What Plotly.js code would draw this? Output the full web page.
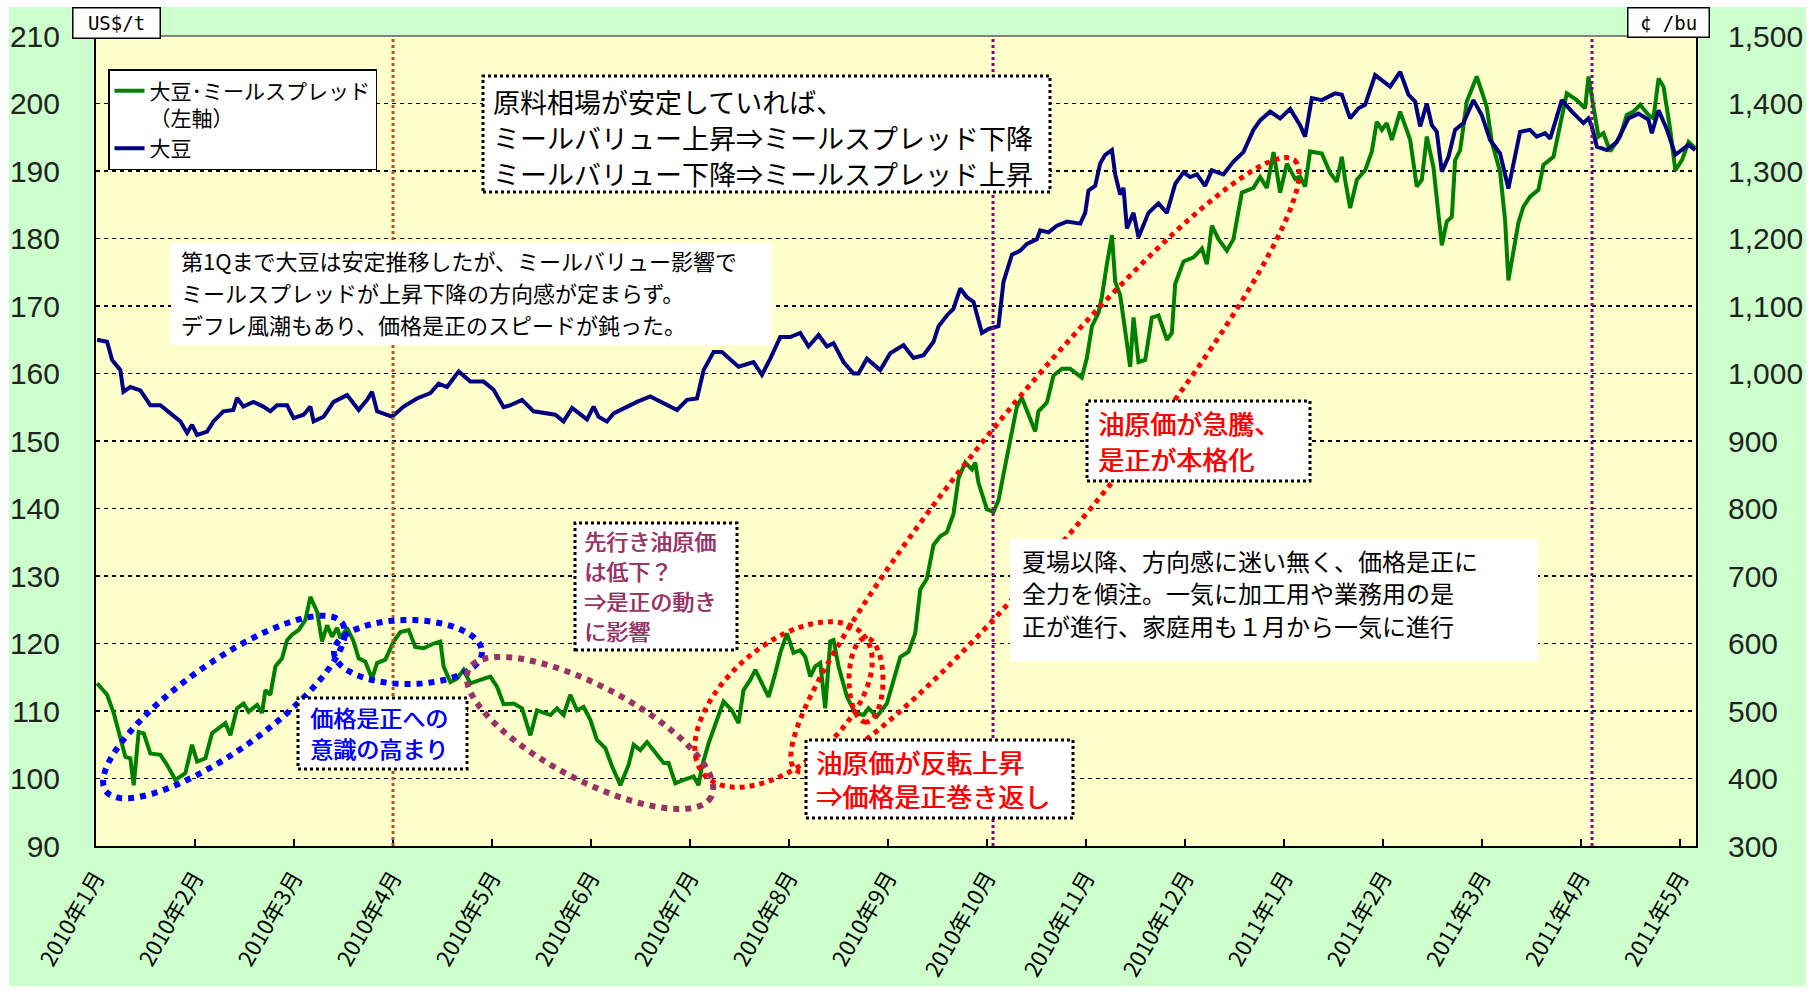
<!DOCTYPE html>
<html><head><meta charset="utf-8">
<script src="https://cdn.plot.ly/plotly-3.0.1.min.js"></script>
<style>
html,body{margin:0;padding:0;background:#fff;width:1813px;height:992px;overflow:hidden;}
#chart{position:absolute;left:9px;top:7px;width:1797px;height:979px;}
</style></head><body><div id="chart"></div>
<script>
// ---- data ----
const monthLabels = ["2010年1月","2010年2月","2010年3月","2010年4月","2010年5月","2010年6月","2010年7月","2010年8月","2010年9月","2010年10月","2010年11月","2010年12月","2011年1月","2011年2月","2011年3月","2011年4月","2011年5月"];
const monthTicks = [0,1,2,3,4,5,6,7,8,9,10,11,12,13,14,15,16];

// time in months since 2010年1月 (category-style month axis)
const spreadT = [0.011,0.112,0.179,0.246,0.297,0.347,0.381,0.431,0.482,0.549,0.650,0.718,0.802,0.903,0.970,1.021,1.105,1.172,1.256,1.307,1.357,1.425,1.491,1.542,1.627,1.677,1.711,1.761,1.812,1.879,1.930,1.980,2.047,2.115,2.165,2.233,2.283,2.334,2.384,2.435,2.468,2.536,2.602,2.653,2.720,2.788,2.839,2.922,3.006,3.074,3.158,3.225,3.309,3.410,3.478,3.511,3.579,3.646,3.713,3.781,3.882,3.983,4.050,4.117,4.218,4.303,4.387,4.454,4.589,4.656,4.723,4.790,4.858,4.925,4.993,5.060,5.144,5.212,5.296,5.379,5.430,5.497,5.565,5.666,5.733,5.783,5.851,5.935,6.036,6.086,6.120,6.187,6.272,6.338,6.423,6.490,6.540,6.608,6.659,6.726,6.793,6.861,6.911,6.979,7.045,7.113,7.164,7.214,7.264,7.315,7.365,7.416,7.449,7.500,7.585,7.668,7.752,7.802,7.887,7.988,8.039,8.123,8.207,8.274,8.325,8.392,8.459,8.527,8.594,8.661,8.712,8.779,8.847,8.880,8.913,8.998,9.065,9.115,9.166,9.233,9.301,9.351,9.418,9.486,9.519,9.604,9.671,9.756,9.839,9.957,10.008,10.059,10.125,10.159,10.210,10.261,10.294,10.344,10.395,10.445,10.479,10.529,10.597,10.664,10.731,10.816,10.866,10.900,10.984,11.085,11.170,11.220,11.270,11.337,11.422,11.488,11.573,11.690,11.758,11.826,11.893,11.960,12.028,12.112,12.161,12.212,12.262,12.381,12.465,12.532,12.583,12.616,12.667,12.735,12.818,12.886,12.936,12.987,13.037,13.088,13.172,13.273,13.340,13.391,13.441,13.508,13.558,13.593,13.643,13.694,13.727,13.778,13.845,13.946,14.047,14.098,14.181,14.232,14.265,14.315,14.366,14.416,14.484,14.568,14.619,14.720,14.787,14.855,14.956,15.040,15.074,15.124,15.175,15.225,15.293,15.394,15.461,15.528,15.596,15.680,15.730,15.782,15.832,15.900,15.951,16.018,16.085,16.152];
// 大豆・ミールスプレッド (US$/t, left axis)
const spreadVal = [114.1,112.4,109.7,105.7,103.2,103.0,99.0,106.9,106.7,103.7,103.5,102.0,99.8,100.8,105.0,102.5,103.0,106.7,107.7,108.2,106.4,110.4,111.1,109.9,110.9,109.7,113.1,112.4,116.6,117.8,120.5,121.3,122.0,123.5,126.9,124.7,120.3,122.7,121.0,122.3,120.8,122.3,120.3,117.8,117.3,114.8,117.1,117.6,120.3,121.7,122.0,119.5,119.3,120.0,120.3,116.6,114.3,114.8,116.1,114.1,114.6,115.1,113.6,111.0,111.1,110.4,106.4,110.1,109.4,110.4,109.4,112.4,110.1,110.6,108.7,105.7,104.5,101.8,99.0,102.0,105.0,104.2,105.4,103.5,102.3,102.3,99.3,99.8,100.3,99.0,101.8,105.2,108.7,111.4,110.1,108.2,113.1,114.6,116.1,114.1,112.1,115.6,118.6,121.5,118.6,119.0,118.0,115.1,116.6,117.1,110.4,120.3,120.5,116.6,112.1,109.7,109.4,110.4,109.2,111.1,113.6,118.0,118.8,121.5,128.0,129.6,134.6,135.9,136.5,139.2,144.5,146.8,145.8,146.8,143.8,139.9,139.5,141.2,145.1,149.8,155.1,156.4,153.8,151.4,154.4,155.7,159.7,160.7,160.7,159.4,162.3,167.0,169.0,171.3,176.2,180.5,173.6,171.6,166.3,161.0,168.3,161.7,162.0,168.3,168.6,165.0,166.0,173.3,176.6,177.2,178.5,176.2,181.9,179.9,178.2,179.9,186.8,187.5,189.1,187.5,192.8,186.8,191.1,188.8,189.2,187.7,192.9,192.6,189.7,188.4,192.1,188.7,184.5,188.7,190.1,192.9,197.3,196.1,197.1,194.6,198.8,194.6,187.7,188.7,195.1,190.6,183.7,179.0,182.5,183.2,191.6,193.1,200.3,204.0,199.5,194.3,189.9,182.7,173.8,177.8,182.3,184.7,186.2,187.2,190.9,192.1,196.6,201.5,200.5,199.3,204.0,199.5,195.1,195.6,192.9,195.1,198.3,198.8,199.8,198.3,197.8,203.7,202.5,196.1,190.1,191.6,194.3,193.4];

const soyT = [0.011,0.112,0.163,0.246,0.277,0.347,0.448,0.549,0.650,0.751,0.852,0.920,0.970,1.021,1.122,1.186,1.287,1.387,1.425,1.488,1.589,1.690,1.761,1.829,1.930,1.996,2.097,2.165,2.198,2.299,2.400,2.536,2.653,2.738,2.788,2.839,2.990,3.107,3.242,3.377,3.461,3.545,3.663,3.781,3.915,4.016,4.117,4.185,4.303,4.420,4.555,4.639,4.723,4.808,4.959,5.026,5.076,5.161,5.228,5.363,5.464,5.598,5.733,5.868,5.969,6.070,6.137,6.238,6.322,6.406,6.490,6.641,6.726,6.810,6.911,7.012,7.113,7.197,7.298,7.383,7.449,7.550,7.651,7.702,7.786,7.921,8.022,8.156,8.257,8.358,8.459,8.510,8.594,8.661,8.729,8.796,8.863,8.948,9.014,9.115,9.166,9.251,9.335,9.402,9.503,9.536,9.620,9.705,9.806,9.941,9.991,10.024,10.092,10.142,10.193,10.261,10.294,10.344,10.378,10.412,10.479,10.529,10.580,10.630,10.731,10.816,10.900,10.984,11.051,11.119,11.202,11.270,11.387,11.488,11.589,11.690,11.758,11.859,11.960,12.061,12.161,12.212,12.280,12.381,12.515,12.583,12.667,12.751,12.818,12.919,13.071,13.172,13.256,13.323,13.374,13.441,13.492,13.542,13.593,13.660,13.727,13.811,13.912,13.996,14.080,14.181,14.265,14.315,14.383,14.484,14.552,14.636,14.687,14.805,14.906,15.023,15.074,15.108,15.159,15.259,15.360,15.478,15.579,15.680,15.714,15.782,15.867,15.951,16.085,16.152];
// 大豆 (¢/bu, right axis)
const soyVal = [1050,1047,1020,1005,973,980,975,953,953,941,929,912,924,909,914,929,944,946,964,951,958,951,944,953,953,934,939,951,929,936,958,968,946,961,973,944,936,951,963,971,985,980,1003,988,988,976,950,953,961,944,941,939,929,949,932,951,936,929,941,951,958,966,956,946,961,963,1005,1032,1032,1020,1010,1017,998,1022,1054,1054,1060,1040,1057,1040,1045,1017,1000,1000,1022,1005,1030,1042,1023,1027,1047,1070,1086,1096,1126,1113,1106,1060,1066,1070,1136,1176,1182,1192,1199,1212,1209,1219,1225,1222,1238,1271,1278,1311,1324,1331,1295,1265,1275,1215,1238,1202,1219,1238,1252,1238,1281,1298,1291,1295,1278,1301,1295,1314,1328,1361,1375,1388,1378,1392,1368,1351,1408,1405,1415,1413,1378,1393,1398,1442,1425,1447,1413,1403,1366,1400,1368,1358,1299,1321,1361,1371,1405,1383,1346,1326,1274,1309,1358,1361,1351,1356,1348,1405,1388,1371,1378,1366,1336,1331,1343,1378,1385,1376,1356,1390,1361,1324,1339,1331];

const seriesNames = ["大豆･ミールスプレッド<br>（左軸）", "大豆"];

// ---- helpers: page pixel -> paper fraction ----
const px = X => (X - 96) / 1600;
const py = Y => (846 - Y) / 810;
const JP = '"Noto Sans CJK JP", "Noto Sans", sans-serif';

function ellipsePath(cx, cy, a, b, deg) {
  const th = deg * Math.PI / 180, c = Math.cos(th), s = Math.sin(th);
  let d = '';
  for (let i = 0; i <= 96; i++) {
    const t = 2 * Math.PI * i / 96;
    const ex = a * Math.cos(t), ey = b * Math.sin(t);
    const X = cx + ex * c - ey * s, Y = cy + ex * s + ey * c;
    d += (i ? 'L' : 'M') + px(X).toFixed(5) + ',' + py(Y).toFixed(5);
  }
  return d + 'Z';
}
function ell(cx, cy, a, b, deg, color, w) {
  return {type: 'path', xref: 'paper', yref: 'paper', path: ellipsePath(cx, cy, a, b, deg),
          line: {color: color, width: w, dash: 'dot'}, layer: 'above'};
}
function box(x0, y0, x1, y1, dotted) {
  return {type: 'rect', xref: 'paper', yref: 'paper', x0: px(x0), x1: px(x1), y0: py(y1), y1: py(y0),
          fillcolor: '#FFFFFF', line: dotted ? {color: '#000', width: 3, dash: 'dot'} : {width: 0},
          layer: 'above'};
}
// one annotation per text line, so line spacing follows the reference
function textLines(x, ys, texts, size, color, heavy) {
  return texts.map((t, i) => ({
    xref: 'paper', yref: 'paper', x: px(x), y: py(ys[i]), xanchor: 'left', yanchor: 'middle',
    align: 'left', showarrow: false, text: t,
    font: Object.assign({family: JP, size: size, color: color, weight: 'normal'},
                        heavy ? {shadow: '0.8px 0 0 ' + color} : {})}));
}
function vline(xm, color) {
  return {type: 'line', xref: 'x', yref: 'paper', x0: xm, x1: xm, y0: 0, y1: 1,
          line: {color: color, width: 3, dash: '3px,3px'}, layer: 'above'};
}

const traces = [
  {x: spreadT, y: spreadVal, type: 'scatter', mode: 'lines', name: seriesNames[0],
   line: {color: '#008000', width: 4}},
  {x: soyT, y: soyVal, type: 'scatter', mode: 'lines', name: seriesNames[1], yaxis: 'y2',
   line: {color: '#000080', width: 4}}
];

const shapes = [
  vline(3.0, '#C0501A'), vline(9.06, '#8B008B'), vline(15.11, '#8B008B'),
  {type: 'line', xref: 'paper', yref: 'paper', x0: 0, x1: 1, y0: 1, y1: 1,
   line: {color: '#808080', width: 2}, layer: 'above'},
  ell(224, 707, 145, 44, -35.4, '#0000FF', 6),
  ell(408, 652, 74, 32, 0, '#0000FF', 6),
  ell(590, 733, 137, 47, 27.7, '#993366', 6),
  ell(783.5, 704.5, 106, 59, -41.2, '#FF0000', 5),
  ell(866, 680, 42, 17, 90, '#FF0000', 5),
  ell(1045, 465, 394, 63, -50.7, '#FF0000', 5),
  box(483, 76, 1050, 192, true),
  box(171, 243, 772, 345, false),
  box(575, 523, 737, 650, true),
  box(298, 698, 467, 769, true),
  box(806, 740, 1073, 818, true),
  box(1087, 401, 1310, 481, true),
  box(1010, 539, 1538, 661, false)
];

const annotations = [].concat(
  textLines(491, [101, 137, 173], ['原料相場が安定していれば、', 'ミールバリュー上昇⇒ミールスプレッド下降', 'ミールバリュー下降⇒ミールスプレッド上昇'], 27, '#000', false),
  textLines(179, [260, 292, 324], ['第1Qまで大豆は安定推移したが、ミールバリュー影響で', 'ミールスプレッドが上昇下降の方向感が定まらず。', 'デフレ風潮もあり、価格是正のスピードが鈍った。'], 22, '#000', false),
  textLines(582, [540, 570, 600, 630], ['先行き油原価', 'は低下？', '⇒是正の動き', 'に影響'], 22, '#993366', true),
  textLines(308, [717, 748], ['価格是正への', '意識の高まり'], 23, '#0000FF', true),
  textLines(814, [761, 795], ['油原価が反転上昇', '⇒価格是正巻き返し'], 26, '#FF0000', true),
  textLines(1096, [422, 459], ['油原価が急騰、', '是正が本格化'], 26, '#FF0000', true),
  textLines(1020, [560, 592.5, 625], ['夏場以降、方向感に迷い無く、価格是正に', '全力を傾注。一気に加工用や業務用の是', '正が進行、家庭用も１月から一気に進行'], 24, '#000', false),
  [
  {xref: 'paper', yref: 'paper', x: px(116), y: py(23.5), xanchor: 'center', yanchor: 'middle',
   showarrow: false, text: 'US$/t', bgcolor: '#FFFFFF', bordercolor: '#000', borderwidth: 1.5,
   borderpad: 0, width: 86, height: 29,
   font: {family: 'DejaVu Sans Mono, Liberation Mono, monospace', size: 19, color: '#000'}},
  {xref: 'paper', yref: 'paper', x: px(1668), y: py(22.5), xanchor: 'center', yanchor: 'middle',
   showarrow: false, text: '¢ /bu', bgcolor: '#FFFFFF', bordercolor: '#000', borderwidth: 1.5,
   borderpad: 0, width: 80, height: 28,
   font: {family: 'DejaVu Sans Mono, Liberation Mono, monospace', size: 19, color: '#000'}}
  ]
);

const layout = {
  width: 1797, height: 979,
  margin: {l: 87, r: 110, t: 29, b: 140},
  paper_bgcolor: '#CCFFCC',
  plot_bgcolor: '#FFFFCC',
  font: {family: JP, color: '#000'},
  showlegend: true,
  legend: {x: px(108), y: py(69), xanchor: 'left', yanchor: 'top',
           bgcolor: '#FFFFFF', bordercolor: '#000', borderwidth: 1.5,
           font: {family: JP, size: 21, color: '#000'}, valign: 'top', tracegroupgap: 0},
  xaxis: {range: [0, 16.16], tickvals: monthTicks, ticktext: monthLabels, tickangle: -60,
          ticks: 'inside', ticklen: 7, tickwidth: 1.5, tickcolor: '#000',
          showline: true, linecolor: '#000', linewidth: 2, showgrid: false, zeroline: false,
          tickfont: {family: JP, size: 22, color: '#000'}, ticklabelstandoff: 8},
  yaxis: {range: [90, 210], tick0: 90, dtick: 10, showline: true, linecolor: '#000', linewidth: 2,
          showgrid: true, gridcolor: '#000', gridwidth: 1.5, griddash: '4px,4px', zeroline: false,
          ticks: '', ticklabelstandoff: 28,
          tickfont: {family: 'Liberation Sans, Arial, sans-serif', size: 30, color: '#222'}},
  yaxis2: {overlaying: 'y', side: 'right', range: [300, 1500], tick0: 300, dtick: 100, tickformat: ',d',
           showline: true, linecolor: '#000', linewidth: 2, showgrid: false, zeroline: false,
           ticks: '', ticklabelstandoff: 24,
           tickfont: {family: 'Liberation Sans, Arial, sans-serif', size: 30, color: '#222'}},
  shapes: shapes,
  annotations: annotations
};

Plotly.newPlot('chart', traces, layout, {displayModeBar: false, staticPlot: true});
</script>
</body></html>
